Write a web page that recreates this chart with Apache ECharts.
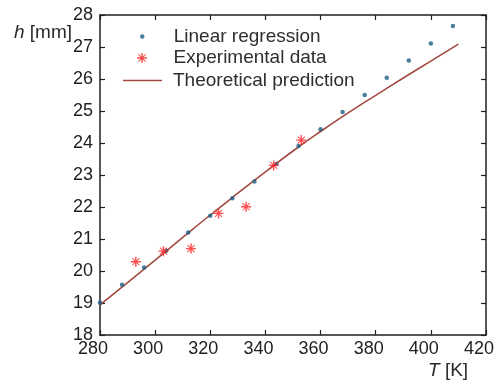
<!DOCTYPE html>
<html>
<head>
<meta charset="utf-8">
<script src="https://cdn.jsdelivr.net/npm/echarts@6/dist/echarts.min.js"></script>
<style>html,body{margin:0;padding:0;background:#fff;}#c{width:497px;height:381px;}</style>
</head>
<body>
<div id="c"></div>
<script>
// Linear regression points
const T_reg = [280, 288, 296, 304, 312, 320, 328, 336, 344, 352, 360, 368, 376, 384, 392, 400, 408];
const h_reg = [19.01, 19.57, 20.11, 20.63, 21.20, 21.73, 22.27, 22.80, 23.34, 23.91, 24.43, 24.97, 25.50, 26.04, 26.58, 27.11, 27.66];
// Experimental data
const T_exp = [293, 303, 313, 323, 333, 343, 353];
const h_exp = [20.29, 20.62, 20.70, 21.80, 22.01, 23.30, 24.09];
// Theoretical prediction
const T_th = [280, 290, 300, 310, 320, 330, 340, 350, 360, 370, 380, 390, 400, 410];
const h_th = [18.94, 19.64, 20.34, 21.05, 21.75, 22.43, 23.10, 23.75, 24.36, 24.94, 25.49, 26.03, 26.56, 27.09];
// Axis ticks
const xTicks = [280, 300, 320, 340, 360, 380, 400, 420];
const yTicks = [18, 19, 20, 21, 22, 23, 24, 25, 26, 27, 28];

const zip = (a, b) => a.map((v, i) => [v, b[i]]);
const asterisk = 'path://M0,8.6L20,8.6L20,11.4L0,11.4Z M8.6,0L11.4,0L11.4,20L8.6,20Z M2.2,3.6L3.6,2.2L17.8,16.4L16.4,17.8Z M16.4,2.2L17.8,3.6L3.6,17.8L2.2,16.4Z';
const FONT = 'Liberation Sans, Arial, sans-serif';
const axisLineStyle = { color: '#231f1c', width: 1.5 };
const REG_COLOR = '#1b5e86', EXP_COLOR = '#ff1f1f', TH_COLOR = '#a24a3e';

const chart = echarts.init(document.getElementById('c'), null, { renderer: 'canvas' });
const xBase = {
  type: 'value', min: xTicks[0], max: xTicks[xTicks.length - 1], interval: 20,
  axisLine: { show: true, onZero: false, lineStyle: axisLineStyle },
  axisTick: { show: true, inside: true, length: 5, lineStyle: { color: '#231f1c', width: 1.2 } },
  splitLine: { show: false }
};
const yBase = {
  type: 'value', min: yTicks[0], max: yTicks[yTicks.length - 1], interval: 1,
  axisLine: { show: true, onZero: false, lineStyle: axisLineStyle },
  axisTick: { show: true, inside: true, length: 5, lineStyle: { color: '#231f1c', width: 1.2 } },
  splitLine: { show: false }
};
const legendText = (p) => ({ fontSize: 19, color: '#2e2e2e', fontFamily: FONT, padding: [0, 0, 0, p] });
const legendBase = { orient: 'vertical', padding: 0, itemWidth: 39 };
chart.setOption({
  animation: false,
  backgroundColor: '#fff',
  grid: { left: 100, right: 10, top: 15, bottom: 46 },
  xAxis: [
    Object.assign({}, xBase, { position: 'bottom',
      axisLabel: { show: true, fontSize: 18, color: '#222', fontFamily: FONT, margin: 5, padding: [0, 14, 0, 0] } }),
    Object.assign({}, xBase, { position: 'top', axisLabel: { show: false } })
  ],
  yAxis: [
    Object.assign({}, yBase, { position: 'left',
      axisLabel: { show: true, fontSize: 18, color: '#222', fontFamily: FONT, margin: 7 } }),
    Object.assign({}, yBase, { position: 'right', axisLabel: { show: false } })
  ],
  legend: [
    Object.assign({}, legendBase, { left: 140, top: 27, itemHeight: 4.5, textStyle: legendText(7),
      data: [{ name: 'Linear regression', icon: 'circle', itemStyle: { color: REG_COLOR } }] }),
    Object.assign({}, legendBase, { left: 137, top: 48.5, itemHeight: 10, textStyle: legendText(7),
      data: [{ name: 'Experimental data', icon: asterisk, itemStyle: { color: EXP_COLOR } }] }),
    Object.assign({}, legendBase, { left: 123, top: 71, itemHeight: 1.6, textStyle: legendText(6),
      data: [{ name: 'Theoretical prediction', icon: 'rect', itemStyle: { color: TH_COLOR } }] })
  ],
  graphic: [
    { type: 'text', left: 14, top: 23,
      style: { text: '{i|h} [mm]', font: '19px ' + FONT, fill: '#2a2a2a',
        rich: { i: { fontStyle: 'italic', fontSize: 19, fontFamily: FONT, fill: '#2a2a2a' } } } },
    { type: 'text', left: 428, top: 361,
      style: { text: '{i|T} [K]', font: '19px ' + FONT, fill: '#2a2a2a',
        rich: { i: { fontStyle: 'italic', fontSize: 19, fontFamily: FONT, fill: '#2a2a2a' } } } }
  ],
  series: [
    { name: 'Linear regression', type: 'scatter', data: zip(T_reg, h_reg),
      symbol: 'circle', symbolSize: 4.5, itemStyle: { color: REG_COLOR }, z: 3 },
    { name: 'Experimental data', type: 'scatter', data: zip(T_exp, h_exp),
      symbol: asterisk, symbolSize: 10, itemStyle: { color: EXP_COLOR }, z: 4 },
    { name: 'Theoretical prediction', type: 'line', data: zip(T_th, h_th), smooth: true,
      symbol: 'none', lineStyle: { color: TH_COLOR, width: 1.6 }, itemStyle: { color: TH_COLOR }, z: 2 }
  ]
});
</script>
</body>
</html>
